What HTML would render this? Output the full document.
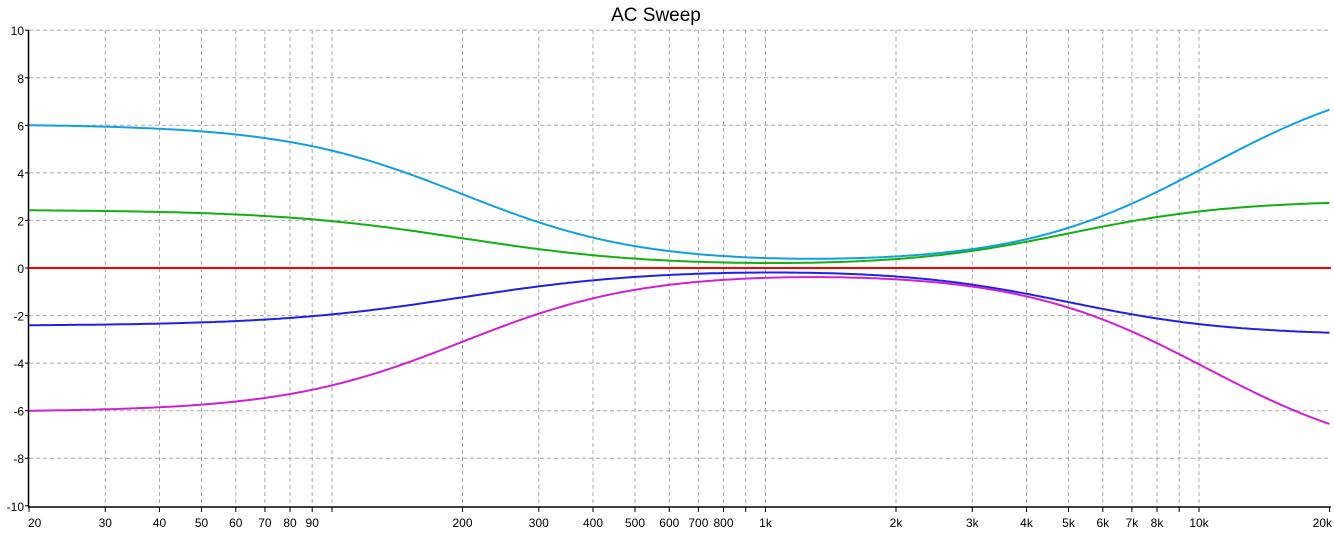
<!DOCTYPE html><html><head><style>body{margin:0;background:#fff}svg text{font-family:"Liberation Sans",sans-serif;font-size:12px}</style></head><body>
<svg id="s" width="1334" height="536" xmlns="http://www.w3.org/2000/svg"></svg>
<script>
const s=document.getElementById('s');let h='';
const X=f=>29+433.5*Math.log10(f/20), Y=v=>268-23.78*v;
h+='<text x="656" y="21" text-anchor="middle" style="font-size:19px">AC Sweep</text>';
const ticks=[];for(const d of [10,100,1000,10000])for(let m=1;m<10;m++){const f=m*d;if(f>=20&&f<=20000)ticks.push(f);}
const lab={20:'20',30:'30',40:'40',50:'50',60:'60',70:'70',80:'80',90:'90',200:'200',300:'300',400:'400',500:'500',600:'600',700:'700',800:'800',1000:'1k',2000:'2k',3000:'3k',4000:'4k',5000:'5k',6000:'6k',7000:'7k',8000:'8k',10000:'10k',20000:'20k'};
for(const f of ticks){const x=X(f).toFixed(1);if(f>20&&f<20000)h+=`<line x1="${x}" y1="30" x2="${x}" y2="506" stroke="#aaa" stroke-dasharray="4,3"/>`;h+=`<line x1="${x}" y1="507" x2="${x}" y2="512" stroke="#000"/>`;if(lab[f]){let a='middle',xx=x;if(f==20){a='start';xx=28;}if(f==20000){a='end';xx=1332;}h+=`<text x="${xx}" y="527" text-anchor="${a}">${lab[f]}</text>`;}}
for(let v=-10;v<=10;v+=2){const y=Y(v).toFixed(1);if(v>-10)h+=`<line x1="29" y1="${y}" x2="1331" y2="${y}" stroke="#aaa" stroke-dasharray="4,3"/>`;h+=`<line x1="25" y1="${y}" x2="29" y2="${y}" stroke="#000"/>`;h+=`<text x="24" y="${(+y+5)}" text-anchor="end">${v}</text>`;}
h+='<line x1="28.5" y1="30" x2="28.5" y2="507" stroke="#000" stroke-width="1.5"/><line x1="28" y1="507" x2="1331" y2="507" stroke="#000" stroke-width="1.5"/>';
function curve(fn,c){let d='';for(let i=0;i<=400;i++){const f=20*Math.pow(1000,i/400);d+=(i?'L':'M')+X(f).toFixed(1)+','+Y(fn(f)).toFixed(1);}h+=`<path d="${d}" fill="none" stroke="${c}" stroke-width="2"/>`;}
const sh=(L,fl,p,f)=>L/(1+Math.pow(f/fl,p));
const cyan=f=>sh(5.9,200,2.1,f)+sh(8.3,1/10500,2,1/f)+0.15;
const green=f=>sh(2.4,200,2,f)+sh(2.8,1/5000,2.3,1/f)+0.05;
h+=`<line x1="29" y1="268" x2="1331" y2="268" stroke="#f00" stroke-width="2"/>`;
curve(green,'#10b010');curve(cyan,'#10a0e0');curve(f=>-green(f)+0.02,'#2020e8');curve(f=>-cyan(f)+0.1*f/20000,'#d020d0');
s.innerHTML=h;
</script></body></html>
